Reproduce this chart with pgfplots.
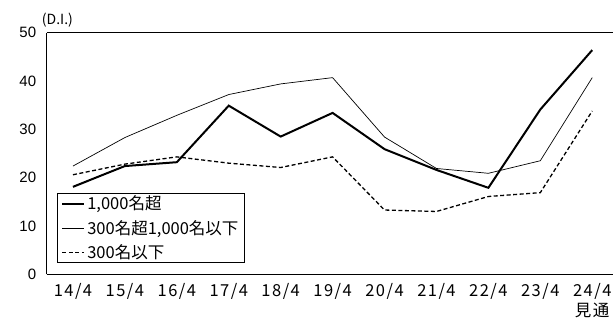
\documentclass[border=0pt]{standalone}
\usepackage{pgfplots}
\pgfplotsset{compat=1.18}
\usepackage{fontspec}
\setmainfont{Noto Sans CJK JP}
\newfontfamily\arialfont{Liberation Sans}
\newfontfamily\hwfont[LetterSpace=9]{Noto Sans CJK JP}
\begin{document}
\begin{tikzpicture}[x=1pt,y=1pt]
\begin{axis}[
  at={(0,0)}, anchor=south west,
  scale only axis,
  width=566.3pt, height=241.6pt,
  xmin=-0.506, xmax=10.4,
  ymin=0, ymax=50,
  axis lines*=left,
  axis line style={line width=1pt},
  xtick={0,1,2,3,4,5,6,7,8,9,10},
  xticklabels={14/4,15/4,16/4,17/4,18/4,19/4,20/4,21/4,22/4,23/4,{24/4\\見通}},
  xticklabel style={align=center, font=\hwfont\fontsize{16.5}{20}\selectfont, anchor=north, yshift=-6pt},
  ytick={0,10,20,30,40,50},
  yticklabel style={font=\arialfont\fontsize{15}{16}\selectfont, xshift=-7pt},
  /pgf/number format/assume math mode=true,
  major tick length=0pt,
  legend style={at={(rel axis cs:0.018,0.047)}, anchor=south west, draw=black, line width=0.8pt,
    font=\fontsize{16.5}{16.5}\selectfont, row sep=5pt, inner xsep=4pt, inner ysep=0.5pt,
    legend cell align=left},
  legend image code/.code={\draw[#1] (0pt,0pt) -- (22pt,0pt);},
  clip=false,
]
\addplot[black, line width=2pt] coordinates {
(0,18.1) (1,22.4) (2,23.2) (3,34.9) (4,28.5) (5,33.4) (6,25.9) (7,21.6) (8,17.9) (9,34.1) (10,46.4)};
\addlegendentry{1,000名超}
\addplot[black, line width=0.7pt] coordinates {
(0,22.4) (1,28.3) (2,32.9) (3,37.2) (4,39.4) (5,40.7) (6,28.4) (7,21.9) (8,20.9) (9,23.5) (10,40.7)};
\addlegendentry{300名超1,000名以下}
\addplot[black, line width=1.3pt, dash pattern=on 4pt off 2.5pt] coordinates {
(0,20.6) (1,22.8) (2,24.3) (3,23.0) (4,22.1) (5,24.3) (6,13.3) (7,13.0) (8,16.1) (9,16.9) (10,33.8)};
\addlegendentry{300名以下}
\draw[line width=1pt] (rel axis cs:0,1) -- (rel axis cs:1,1);
\node[anchor=south west, font=\fontsize{14}{14}\selectfont, inner sep=0pt] at ([yshift=5pt,xshift=-5pt]rel axis cs:0,1) {(D.I.)};
\end{axis}
\pgfresetboundingbox
\path (-46.7pt,-53.7pt) rectangle (566.3pt,274.3pt);
\end{tikzpicture}
\end{document}
